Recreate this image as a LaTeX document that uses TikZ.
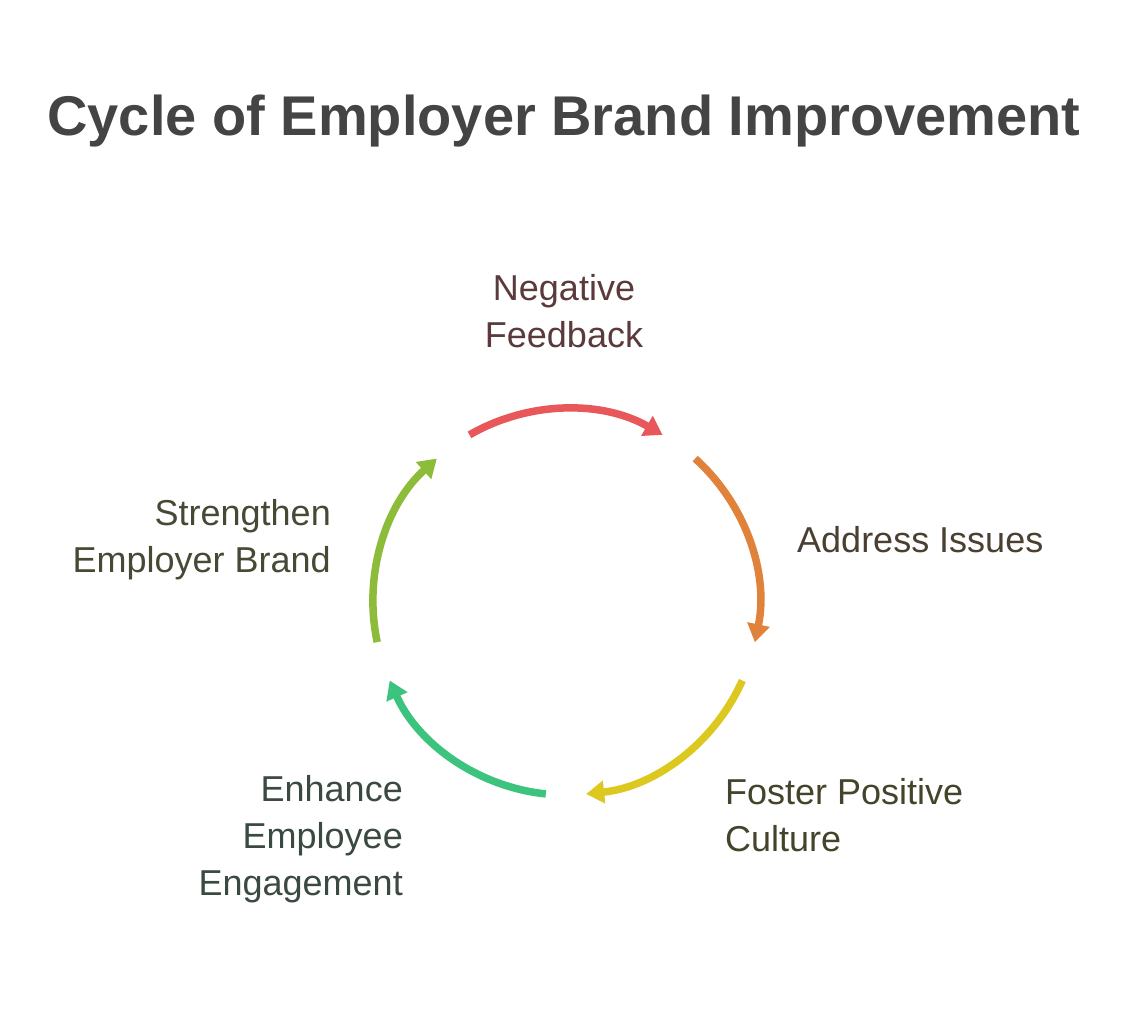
\documentclass[tikz,border=0pt]{standalone}
\usepackage{fontspec}
\setmainfont{Liberation Sans}
\usetikzlibrary{arrows.meta}
\definecolor{cRed}{HTML}{E8585A}
\definecolor{cOrange}{HTML}{E0823A}
\definecolor{cYellow}{HTML}{DDC820}
\definecolor{cGreen}{HTML}{3CC47F}
\definecolor{cLime}{HTML}{8DBB3A}
\definecolor{titlegray}{HTML}{444444}
\definecolor{tRed}{HTML}{5A3A3A}
\definecolor{tOrange}{HTML}{4A3F30}
\definecolor{tYellow}{HTML}{45432A}
\definecolor{tGreen}{HTML}{3A4A40}
\definecolor{tLime}{HTML}{454A35}
\tikzset{
  cyclearc/.style={line width=7.5pt, -{Triangle[length=18pt,width=22pt]}},
  steplabel/.style={font=\fontsize{36}{47}\selectfont, inner sep=0pt}
}
\begin{document}
\begin{tikzpicture}[x=1pt,y=-1pt]
  \useasboundingbox (0,0) rectangle (1128,1009);
  \node[font=\fontsize{56}{60}\selectfont\bfseries, text=titlegray] (title) at (564,121) {Cycle of Employer Brand Improvement};

  % cycle arcs, centre (566,602)
  \coordinate (c) at (566,602);
  \foreach \a/\col in {120/cRed, 48/cOrange, -24/cYellow, -96/cGreen, 192/cLime} {
    \draw[cyclearc, \col] (c) ++(-\a:193) arc[start angle=-\a, delta angle=60, radius=193];
  }

  % labels
  \node[steplabel, text=tRed, align=center] (neg) at (564,311) {Negative\\Feedback};
  \node[steplabel, text=tOrange, anchor=west] (addr) at (797,540) {Address Issues};
  \node[steplabel, text=tYellow, align=left, anchor=west] (fost) at (725,815) {Foster Positive\\Culture};
  \node[steplabel, text=tGreen, align=right, anchor=east] (enh) at (403,839) {Enhance\\Employee\\Engagement};
  \node[steplabel, text=tLime, align=right, anchor=east] (str) at (331,540) {Strengthen\\Employer Brand};
\end{tikzpicture}
\end{document}
